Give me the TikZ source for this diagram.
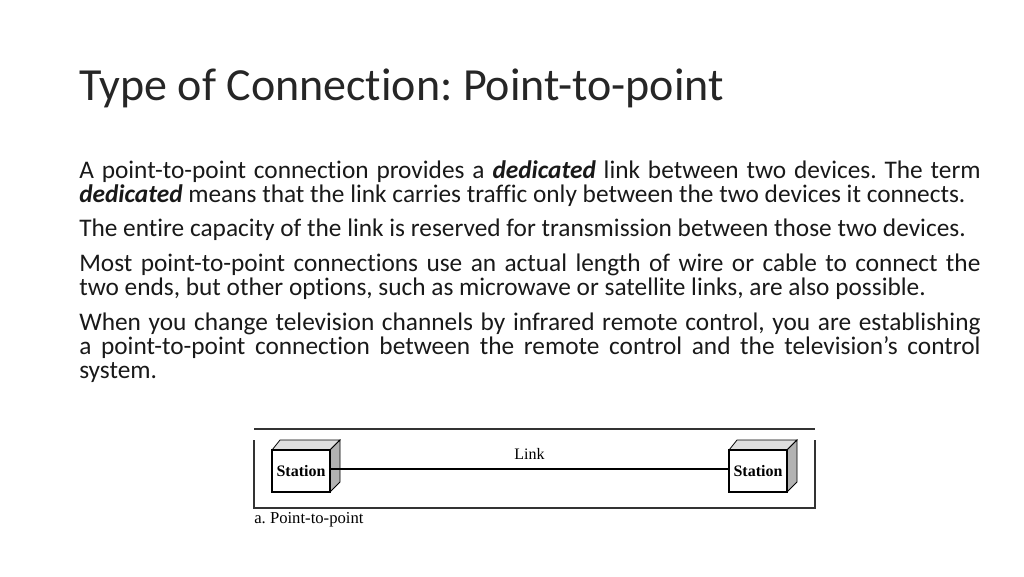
\documentclass[tikz,border=0pt]{standalone}
\usepackage{fontspec}
\setmainfont{Carlito}[Ligatures={NoCommon}]
\newfontfamily\seriffont{Liberation Serif}
\frenchspacing
\begin{document}
\begin{tikzpicture}[x=0.75pt,y=-0.75pt,
  face/.style={draw=black,line width=0.8pt,fill=white},
  side/.style={draw=black,line width=0.6pt,fill=gray!60},
  topf/.style={draw=black,line width=0.6pt,fill=gray!25},
  frame/.style={draw=black!80,line width=1pt}]
\useasboundingbox (0,0) rectangle (1024,576);
\node[anchor=base west,inner sep=0pt,font=\fontsize{34.5}{40}\selectfont,text=black!85] (title) at (79,100) {Type of Connection: Point-to-point};
\node[anchor=north west,inner sep=0pt,text width=676pt,align=justify,font=\fontsize{19}{18}\selectfont,text=black!90] (body) at (79,160) {%
A point-to-point connection provides a \textbf{\textit{dedicated}} link between two devices. The term\linebreak
\textbf{\textit{dedicated}} means that the link carries traffic only between the two devices it connects.\par\vspace{8pt}
The entire capacity of the link is reserved for transmission between those two devices.\par\vspace{8pt}
Most point-to-point connections use an actual length of wire or cable to connect the\linebreak two ends, but other options, such as microwave or satellite links, are also possible.\par\vspace{8pt}
When you change television channels by infrared remote control, you are establishing\linebreak a point-to-point connection between the remote control and the television's control\linebreak system.};
% frame
\draw[frame] (254,429) -- (815,429);
\draw[frame] (254,440) -- (254,508) -- (815,508) -- (815,440);
% left station
\fill[topf] (272,450) -- (280,440) -- (340,440) -- (330,450) -- cycle;
\fill[side] (330,450) -- (340,440) -- (340,482) -- (330,492) -- cycle;
\node[face,minimum width=43.5pt,minimum height=31.5pt,inner sep=0pt,font=\seriffont\bfseries\fontsize{12}{14}\selectfont] (s1) at (301,471) {Station};
% right station
\fill[topf] (729,450) -- (737,440) -- (797,440) -- (787,450) -- cycle;
\fill[side] (787,450) -- (797,440) -- (797,482) -- (787,492) -- cycle;
\node[face,minimum width=43.5pt,minimum height=31.5pt,inner sep=0pt,font=\seriffont\bfseries\fontsize{12}{14}\selectfont] (s2) at (758,471) {Station};
\draw[line width=1.2pt] (s1.east |- 0,469) -- node[above=3pt,font=\seriffont\fontsize{12}{14}\selectfont] (lk) {Link} (s2.west |- 0,469);
\node[anchor=west,inner sep=0pt,font=\seriffont\fontsize{12.5}{14}\selectfont] (cap) at (254,520) {a. Point-to-point};
\end{tikzpicture}
\end{document}
